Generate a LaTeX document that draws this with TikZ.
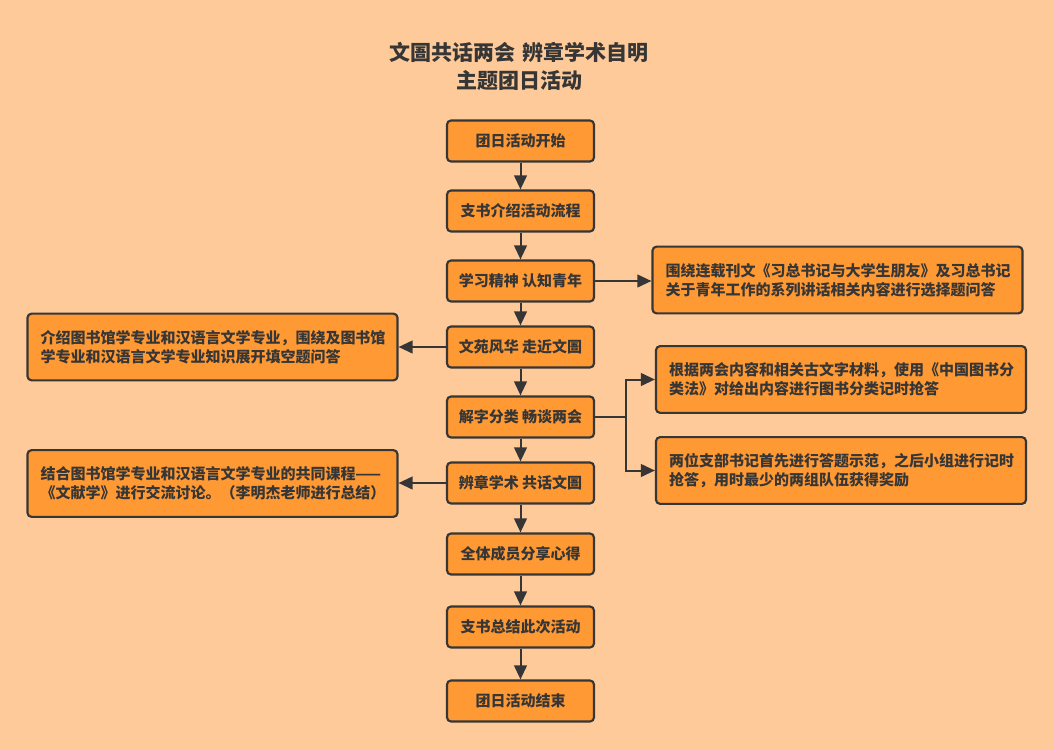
\documentclass[tikz,border=0pt]{standalone}
\usepackage{fontspec}
\setmainfont{Noto Sans CJK SC}
\usetikzlibrary{arrows.meta}
\definecolor{bg}{HTML}{FFCA99}
\definecolor{boxfill}{HTML}{FF9933}
\definecolor{ink}{HTML}{363636}
\begin{document}
\begin{tikzpicture}[x=0.75pt,y=-0.75pt,
 box/.style={draw=ink, line width=1.6pt, fill=boxfill, rounded corners=3pt, text=ink,
   font=\fontsize{11.25pt}{14.25pt}\selectfont\bfseries, inner sep=0pt},
 mainbox/.style={box, minimum width=110.25pt, minimum height=30.75pt},
 sidebox/.style={box, minimum width=277.5pt, minimum height=50pt, align=left, text width=258pt},
 conn/.style={draw=ink, line width=1.5pt, -{Triangle[length=10.5pt,width=9.5pt]}}
]
\fill[bg] (0,0) rectangle (1054,750);
\useasboundingbox (0,0) rectangle (1054,750);

\node[text=ink, align=center, font=\fontsize{15.75pt}{21pt}\selectfont\bfseries] (title) at (519,66)
  {文圄共话两会\hspace{0.35em}辨章学术自明\\主题团日活动};

\node[mainbox] (m1) at (520.5,141) {团日活动开始};
\node[mainbox] (m2) at (520.5,211) {支书介绍活动流程};
\node[mainbox] (m3) at (520.5,281) {学习精神 认知青年};
\node[mainbox] (m4) at (520.5,347) {文苑风华 走近文圄};
\node[mainbox] (m5) at (520.5,417) {解字分类 畅谈两会};
\node[mainbox] (m6) at (520.5,483) {辨章学术 共话文圄};
\node[mainbox] (m7) at (520.5,554) {全体成员分享心得};
\node[mainbox] (m8) at (520.5,627) {支书总结此次活动};
\node[mainbox] (m9) at (520.5,701) {团日活动结束};

\node[sidebox] (r1) at (837.5,280) {围绕连载刊文《习总书记与大学生朋友》及习总书记\\关于青年工作的系列讲话相关内容进行选择题问答};
\node[sidebox] (l1) at (212.5,347) {介绍图书馆学专业和汉语言文学专业，围绕及图书馆\\学专业和汉语言文学专业知识展开填空题问答};
\node[sidebox] (r2) at (841,379.5) {根据两会内容和相关古文字材料，使用《中国图书分\\类法》对给出内容进行图书分类记时抢答};
\node[sidebox] (r3) at (841,470.5) {两位支部书记首先进行答题示范，之后小组进行记时\\抢答，用时最少的两组队伍获得奖励};
\node[sidebox] (l2) at (212.5,483.5) {结合图书馆学专业和汉语言文学专业的共同课程——\\《文献学》进行交流讨论。（李明杰老师进行总结）};

\draw[conn] (m1) -- (m2);
\draw[conn] (m2) -- (m3);
\draw[conn] (m3) -- (m4);
\draw[conn] (m4) -- (m5);
\draw[conn] (m5) -- (m6);
\draw[conn] (m6) -- (m7);
\draw[conn] (m7) -- (m8);
\draw[conn] (m8) -- (m9);

\draw[conn] (m3.east) -- (m3.east -| r1.west);
\draw[conn] (m4.west) -- (m4.west -| l1.east);
\draw[conn] (m6.west) -- (m6.west -| l2.east);

\coordinate (fork) at ([xshift=23.25pt]m5.east);
\draw[conn] (m5.east) -- (fork) |- (r2.west);
\draw[conn] (fork) |- (r3.west);
\end{tikzpicture}
\end{document}
